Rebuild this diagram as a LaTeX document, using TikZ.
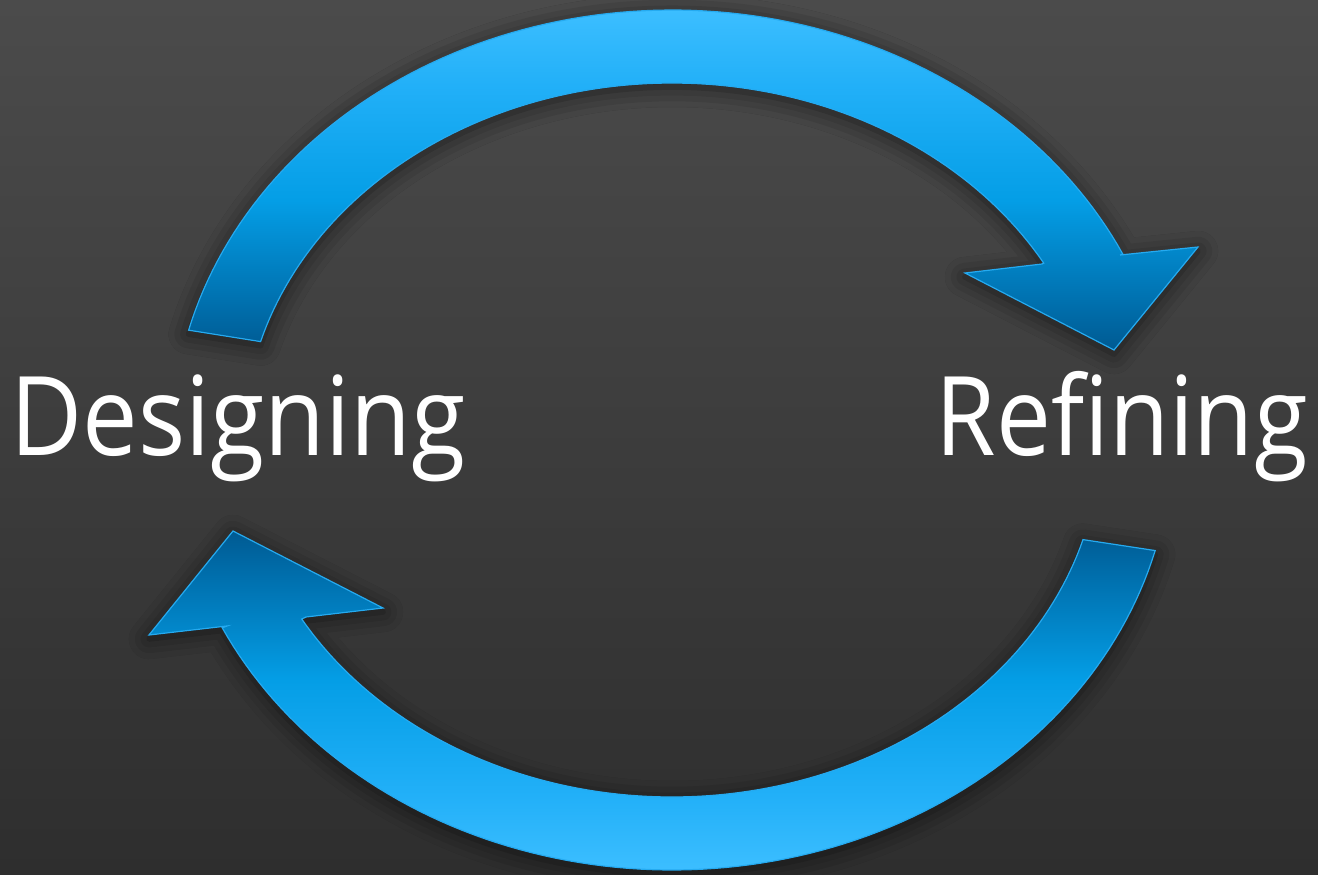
\documentclass[tikz,border=0pt]{standalone}
\usepackage{fontspec}
\setmainfont{Open Sans}
\usetikzlibrary{shadows.blur}
\definecolor{bgtop}{HTML}{4B4B4B}
\definecolor{bgmid}{HTML}{3C3C3C}
\definecolor{bgbot}{HTML}{2E2E2E}
\definecolor{cA}{HTML}{005A92}
\definecolor{cB}{HTML}{0070AE}
\definecolor{cC}{HTML}{049EE6}
\definecolor{cD}{HTML}{22B0F8}
\definecolor{cE}{HTML}{3CBEFF}
\definecolor{arrowedge}{HTML}{25AAF0}
\pgfdeclareverticalshading{topgrad}{100bp}{color(0bp)=(cA); color(25bp)=(cA); color(32bp)=(cB); color(47bp)=(cC); color(64bp)=(cD); color(75bp)=(cE); color(100bp)=(cE)}
\pgfdeclareverticalshading{botgrad}{100bp}{color(0bp)=(cE); color(25bp)=(cE); color(36bp)=(cD); color(53bp)=(cC); color(68bp)=(cB); color(75bp)=(cA); color(100bp)=(cA)}
\begin{document}
\begin{tikzpicture}[x=0.5pt,y=-0.5pt,
  arrowshape/.style={draw=arrowedge, line width=0.6pt, line join=miter,
    blur shadow={shadow xshift=0pt, shadow yshift=-2pt, shadow blur radius=10pt, shadow opacity=60}},
  toparrow/.style={arrowshape, shading=topgrad},
  botarrow/.style={arrowshape, shading=botgrad},
  word/.style={text=white, font=\fontsize{55}{66}\selectfont, inner sep=0pt}]
\useasboundingbox (0,0) rectangle (1318,874);
\fill[top color=bgtop, middle color=bgmid, bottom color=bgbot] (0,0) rectangle (1318,874);

% arrowhead points
\coordinate (tjo) at (1120,255);
\coordinate (trb) at (1198,247);
\coordinate (ttip) at (1114,350);
\coordinate (tlb) at (965,273);
\coordinate (tji) at (1042,264);
\coordinate (bjo) at (227,626);
\coordinate (blb) at (149,635);
\coordinate (btip) at (233,531);
\coordinate (brb) at (383,608);
\coordinate (bji) at (306,617);

% top arrow (Designing -> Refining)
\path[toparrow]
  plot[domain=194.8:334.4, samples=100] ({672+500*cos(\x)},{440+430*sin(\x)})
  -- (tjo) -- (trb) -- (ttip) -- (tlb) -- (tji)
  -- plot[domain=330.3:196, samples=100] ({672+428*cos(\x)},{440+357*sin(\x)})
  -- cycle;

% bottom arrow (Refining -> Designing)
\path[botarrow]
  plot[domain=14.9:154.1, samples=100] ({672+500*cos(\x)},{440+430*sin(\x)})
  -- (bjo) -- (blb) -- (btip) -- (brb) -- (bji)
  -- plot[domain=149.9:16.2, samples=100] ({672+428*cos(\x)},{440+357*sin(\x)})
  -- cycle;

% labels
\node[word, anchor=base west] (des) at (10,455) {\scalebox{0.9}[1]{Designing}};
\node[word, anchor=base east] (ref) at (1308,455) {\scalebox{0.89}[1]{Refining}};
\end{tikzpicture}
\end{document}
